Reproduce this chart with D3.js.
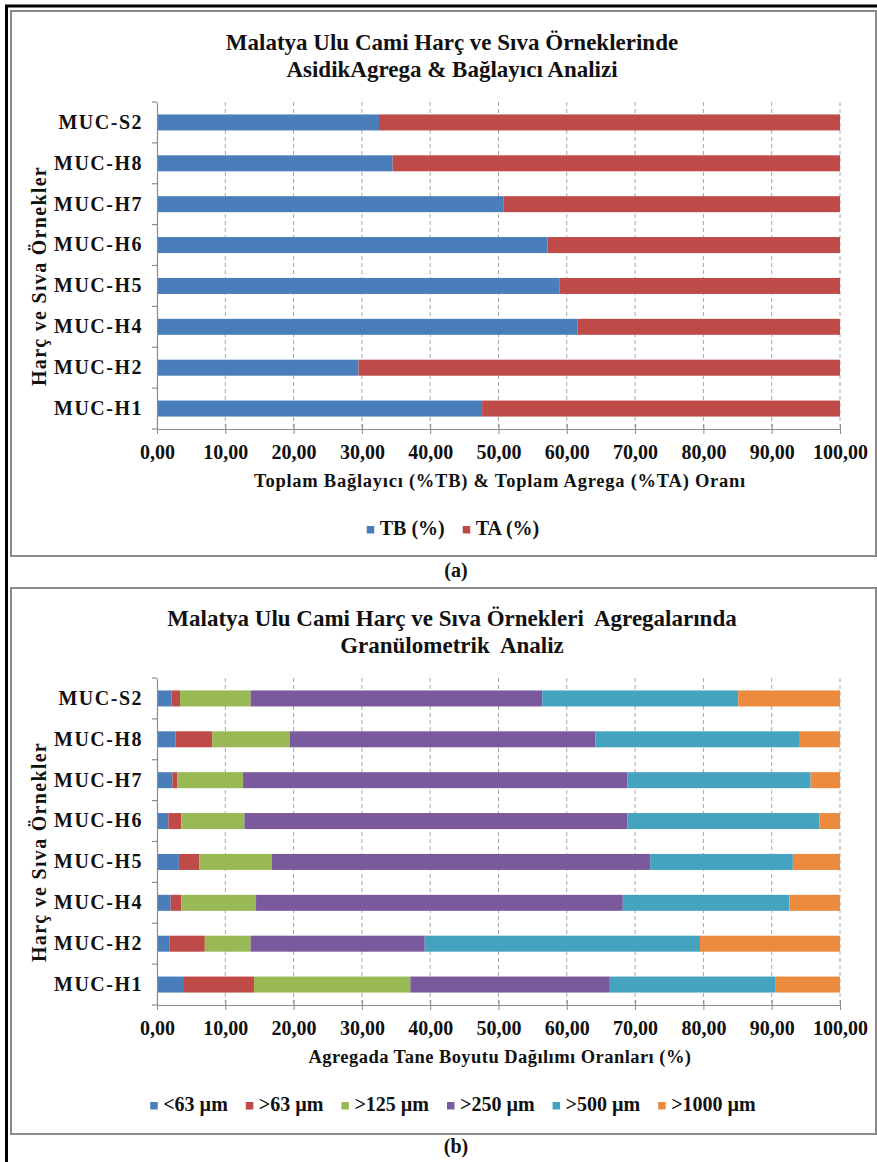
<!DOCTYPE html>
<html>
<head>
<meta charset="utf-8">
<script src="https://cdn.jsdelivr.net/npm/d3@7"></script>
<style>
  html, body { margin: 0; padding: 0; background: #fff; }
  svg text { font-family: "Liberation Serif", "Times New Roman", serif; font-weight: bold; fill: #111; }
</style>
</head>
<body>
<svg id="fig" width="877" height="1162"></svg>
<script>
// Samples, top to bottom
const samples = ["MUC-S2", "MUC-H8", "MUC-H7", "MUC-H6", "MUC-H5", "MUC-H4", "MUC-H2", "MUC-H1"];

// (a) binder / aggregate ratio (%)
const binderKeys = ["TB (%)", "TA (%)"];
const tbValues = [32.5, 34.5, 50.7, 57.2, 58.9, 61.6, 29.5, 47.6];
const taValues = [67.5, 65.5, 49.3, 42.8, 41.1, 38.4, 70.5, 52.4];

// (b) grain size distribution of aggregate (%)
const sizeKeys = ["<63 µm", ">63 µm", ">125 µm", ">250 µm", ">500 µm", ">1000 µm"];
const lt63   = [2.15, 2.7, 2.25, 1.66, 3.2, 2.0, 1.8, 3.95];
const gt63   = [1.22, 5.4, 0.75, 1.9, 3.0, 1.56, 5.2, 10.25];
const gt125  = [10.33, 11.3, 9.6, 9.24, 10.6, 10.94, 6.7, 22.9];
const gt250  = [42.7, 44.8, 56.3, 56.1, 55.4, 53.7, 25.5, 29.2];
const gt500  = [28.7, 29.8, 26.8, 28.1, 20.9, 24.4, 40.3, 24.2];
const gt1000 = [14.9, 6.0, 4.3, 3.0, 6.9, 7.4, 20.5, 9.5];

const xTicks = [0, 10, 20, 30, 40, 50, 60, 70, 80, 90, 100];

const binderColors = ["#4a7ebb", "#be4b48"];
const sizeColors = ["#4a7ebb", "#be4b48", "#98b954", "#7a5a9c", "#45a3c0", "#ec8b3e"];

const svg = d3.select("#fig");
const fmt = v => d3.format(".2f")(v).replace(".", ",");

// Page frame: heavy black outer rule, grey chart frames
svg.append("rect").attr("x", 0).attr("y", 0).attr("width", 877).attr("height", 1162).attr("fill", "#fff");
svg.append("line").attr("x1", 5).attr("x2", 877).attr("y1", 6).attr("y2", 6)
  .attr("stroke", "#000").attr("stroke-width", 3);
svg.append("line").attr("x1", 6.5).attr("x2", 6.5).attr("y1", 5).attr("y2", 1162)
  .attr("stroke", "#000").attr("stroke-width", 3);

function frame(y0, y1) {
  svg.append("rect").attr("x", 11).attr("y", y0).attr("width", 865).attr("height", y1 - y0)
    .attr("fill", "none").attr("stroke", "#8a8a8a").attr("stroke-width", 2);
}
frame(11, 556);
frame(588, 1134);

function drawPanel(opts) {
  const dy = opts.offset;
  const g = svg.append("g").attr("transform", `translate(0,${dy})`);
  const x = d3.scaleLinear().domain([0, 100]).range([157, 840]);
  const y = d3.scaleBand().domain(samples).range([102, 429]).paddingInner(0).paddingOuter(0);
  const barH = 16;

  // title
  opts.title.forEach((t, i) => {
    g.append("text").attr("x", 452).attr("y", 50 + i * 27)
      .attr("text-anchor", "middle").style("font-size", "23px").style("white-space", "pre")
      .text(t);
  });

  // dashed vertical gridlines
  g.append("g").selectAll("line").data(xTicks.slice(1)).join("line")
    .attr("x1", d => x(d)).attr("x2", d => x(d))
    .attr("y1", 102).attr("y2", 429)
    .attr("stroke", "#a8a8a8").attr("stroke-width", 1).attr("stroke-dasharray", "4,3");

  // stacked bars
  const table = samples.map((s, i) => {
    const row = { sample: s };
    opts.keys.forEach((k, j) => { row[k] = opts.series[j][i]; });
    return row;
  });
  const stacked = d3.stack().keys(opts.keys)(table);
  g.append("g").selectAll("g").data(stacked).join("g")
    .attr("fill", (d, i) => opts.colors[i])
    .selectAll("rect").data(d => d).join("rect")
    .attr("x", d => x(d[0]))
    .attr("width", d => x(d[1]) - x(d[0]))
    .attr("y", d => y(d.data.sample) + y.bandwidth() / 2 - barH / 2)
    .attr("height", barH);

  // y axis (category)
  const yAxis = g.append("g").attr("transform", "translate(157,0)")
    .call(d3.axisLeft(y).tickSize(0).tickPadding(14));
  yAxis.select(".domain").attr("stroke", "#8c8c8c").attr("stroke-width", 1.2);
  yAxis.selectAll("text").style("font-size", "20px").style("letter-spacing", "1.5px")
    .attr("font-family", null).attr("fill", "#111");
  // band boundary ticks
  const bounds = samples.map(s => y(s)).concat([429]);
  g.append("g").selectAll("line").data(bounds).join("line")
    .attr("x1", 152).attr("x2", 157).attr("y1", d => d).attr("y2", d => d)
    .attr("stroke", "#8c8c8c").attr("stroke-width", 1.2);

  // x axis
  const xAxis = g.append("g").attr("transform", "translate(0,429)")
    .call(d3.axisBottom(x).tickValues(xTicks).tickFormat(fmt).tickSizeInner(5).tickSizeOuter(0).tickPadding(12));
  xAxis.select(".domain").attr("stroke", "#8c8c8c").attr("stroke-width", 1.2);
  xAxis.selectAll(".tick line").attr("stroke", "#8c8c8c").attr("y1", -5).attr("y2", 5);
  xAxis.selectAll("text").style("font-size", "20px").attr("font-family", null).attr("fill", "#111")
    .attr("dy", null).attr("y", 30);

  // axis titles
  g.append("text").attr("x", 500).attr("y", 487).attr("text-anchor", "middle")
    .style("font-size", "18.5px").style("letter-spacing", opts.xTitleSpacing)
    .text(opts.xTitle);
  g.append("text").attr("transform", "translate(46,276) rotate(-90)").attr("text-anchor", "middle")
    .style("font-size", "20px").style("letter-spacing", "1.3px")
    .text("Harç ve Sıva Örnekler");

  // legend
  const leg = g.append("g");
  const items = leg.selectAll("g").data(opts.keys).join("g");
  items.append("rect").attr("width", 7.5).attr("height", 7.5).attr("y", 526)
    .attr("fill", (d, i) => opts.colors[i]);
  items.append("text").attr("x", 13).attr("y", 535).style("font-size", "20px").text(d => d);
  const widths = items.nodes().map(n => 13 + n.querySelector("text").getComputedTextLength());
  const gap = 18;
  const total = d3.sum(widths) + gap * (widths.length - 1);
  let cx = 453 - total / 2;
  items.each(function (d, i) {
    d3.select(this).attr("transform", `translate(${cx},0)`);
    cx += widths[i] + gap;
  });

  // panel caption
  g.append("text").attr("x", 456).attr("y", 577).attr("text-anchor", "middle")
    .style("font-size", "20px").text(opts.caption);
}

drawPanel({
  offset: 0,
  title: ["Malatya Ulu Cami Harç ve Sıva Örneklerinde", "AsidikAgrega & Bağlayıcı Analizi"],
  keys: binderKeys,
  series: [tbValues, taValues],
  colors: binderColors,
  xTitle: "Toplam Bağlayıcı (%TB) & Toplam Agrega (%TA) Oranı",
  xTitleSpacing: "0.75px",
  caption: "(a)"
});

drawPanel({
  offset: 576,
  title: ["Malatya Ulu Cami Harç ve Sıva Örnekleri  Agregalarında", "Granülometrik  Analiz"],
  keys: sizeKeys,
  series: [lt63, gt63, gt125, gt250, gt500, gt1000],
  colors: sizeColors,
  xTitle: "Agregada Tane Boyutu Dağılımı Oranları (%)",
  xTitleSpacing: "0.45px",
  caption: "(b)"
});
</script>
</body>
</html>
